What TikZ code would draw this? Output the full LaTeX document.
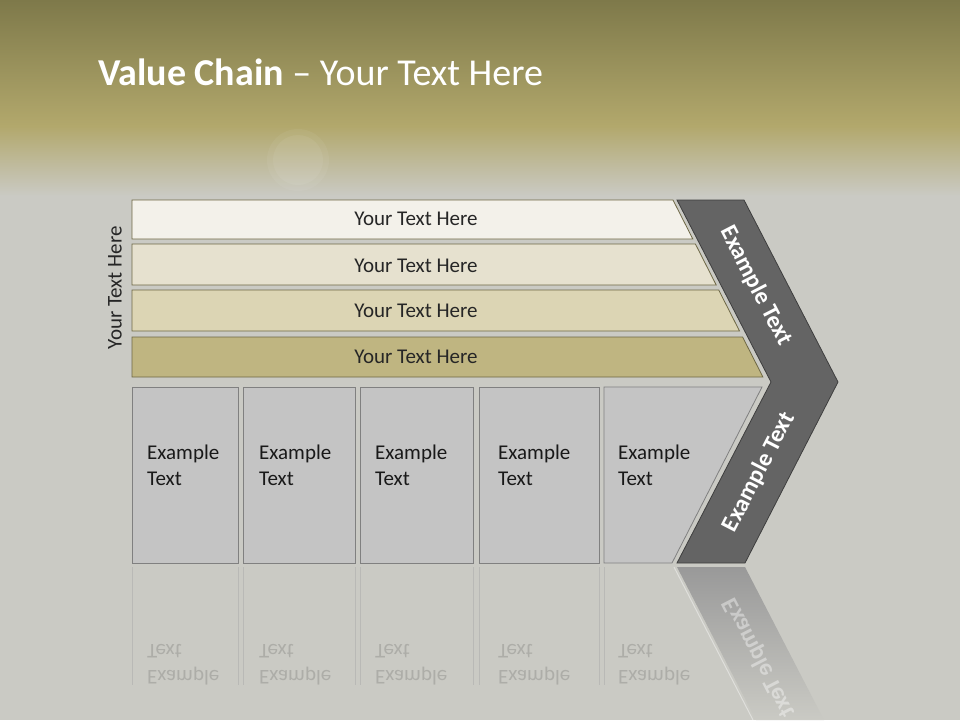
\documentclass[tikz,border=0pt]{standalone}
\usepackage{fontspec}
\setmainfont{Carlito}
\usepackage{xcolor}

\definecolor{olivetop}{HTML}{7E794A}
\definecolor{olivelow}{HTML}{B2A86C}
\definecolor{bgmid}{HTML}{CACAC4}
\definecolor{barline}{HTML}{6E6845}
\definecolor{barone}{HTML}{F3F1EA}
\definecolor{bartwo}{HTML}{E6E1CF}
\definecolor{barthree}{HTML}{DCD5B4}
\definecolor{barfour}{HTML}{BFB581}
\definecolor{boxfill}{HTML}{C4C4C4}
\definecolor{boxline}{HTML}{808080}
\definecolor{chevfill}{HTML}{646464}
\definecolor{chevline}{HTML}{3E3E3E}

\tikzset{
  bar/.style={draw=barline, line width=0.8pt},
  bartext/.style={font=\fontsize{21}{25}\selectfont, text=black!85},
  stage/.style={draw=boxline, fill=boxfill, line width=0.8pt},
  stagetext/.style={font=\fontsize{21}{26}\selectfont, text=black!90, align=left, anchor=west, inner sep=0pt},
  chevtext/.style={font=\fontsize{24}{26}\selectfont\bfseries, text=white, inner sep=1pt},
  mirrortext/.style={stagetext, text=black, opacity=0.14, transform shape}
}

\begin{document}
\begin{tikzpicture}[x=1pt,y=-1pt]
\useasboundingbox (0,0) rectangle (960,720);

% background
\fill[bgmid] (0,0) rectangle (960,720);
\shade[top color=olivetop, bottom color=olivelow] (0,0) rectangle (960,126);
\shade[top color=olivelow, bottom color=bgmid] (0,126) rectangle (960,196);
\fill[white, opacity=0.05] (298,160) circle (31);
\fill[white, opacity=0.06] (298,160) circle (25);

% title
\node[anchor=base west, text=white, inner sep=0pt, font=\fontsize{38}{40}\selectfont] (title) at (98,85)
  {\textbf{Value Chain} -- Your Text Here};

% side label
\node[bartext, rotate=90] (sidelabel) at (115,288) {Your Text Here};

% support bars
\draw[bar, fill=barone] (132,200) -- (673,200) -- (692.8,239) -- (132,239) -- cycle;
\draw[bar, fill=bartwo] (132,244) -- (695.4,244) -- (716.2,285) -- (132,285) -- cycle;
\draw[bar, fill=barthree] (132,290) -- (718.7,290) -- (739.5,331) -- (132,331) -- cycle;
\draw[bar, fill=barfour] (132,337) -- (742.6,337) -- (762.9,377) -- (132,377) -- cycle;
\node[bartext] (bartxta) at (416,219) {Your Text Here};
\node[bartext] (bartxtb) at (416,266) {Your Text Here};
\node[bartext] (bartxtc) at (416,311) {Your Text Here};
\node[bartext] (bartxtd) at (416,357) {Your Text Here};

% primary stages
\draw[stage] (132,387) rectangle (238,563);
\draw[stage] (243,387) rectangle (355,563);
\draw[stage] (360,387) rectangle (473,563);
\draw[stage] (479,387) rectangle (599,563);
\draw[stage] (604,387) -- (762,387) -- (672,563) -- (604,563) -- cycle;
\node[stagetext] (stagea) at (147,465) {Example\\Text};
\node[stagetext] (stageb) at (259,465) {Example\\Text};
\node[stagetext] (stagec) at (375,465) {Example\\Text};
\node[stagetext] (staged) at (498,465) {Example\\Text};
\node[stagetext] (stagee) at (618,465) {Example\\Text};

% margin chevron
\draw[chevline, fill=chevfill, line width=0.8pt]
  (677,200) -- (744,200) -- (838,382) -- (745,563) -- (677,563) -- (771,382) -- cycle;
\node[chevtext, rotate=-62.7] (marginup) at (756,286) {Example Text};
\node[chevtext, rotate=62.7] (margindown) at (759,472) {Example Text};

% reflection
\shade[top color=black!40, bottom color=bgmid] (677,567) -- (745,567) -- (824,720) -- (756,720) -- cycle;
\draw[white, opacity=0.4, line width=1pt] (674,567) -- (753,720);
\begin{scope}[shift={(0,1130)}, yscale=-1]
  \draw[boxline!70, opacity=0.45] (132,563) -- (132,445) (238,563) -- (238,445)
    (243,563) -- (243,445) (355,563) -- (355,445) (360,563) -- (360,445)
    (473,563) -- (473,445) (479,563) -- (479,445) (599,563) -- (599,445)
    (604,563) -- (604,445);
  \node[mirrortext] (mirrora) at (147,465) {Example\\Text};
  \node[mirrortext] (mirrorb) at (259,465) {Example\\Text};
  \node[mirrortext] (mirrorc) at (375,465) {Example\\Text};
  \node[mirrortext] (mirrord) at (498,465) {Example\\Text};
  \node[mirrortext] (mirrore) at (618,465) {Example\\Text};
  \node[chevtext, rotate=62.7, transform shape, opacity=0.4] (mirrorchev) at (759,472) {Example Text};
\end{scope}
\end{tikzpicture}
\end{document}
